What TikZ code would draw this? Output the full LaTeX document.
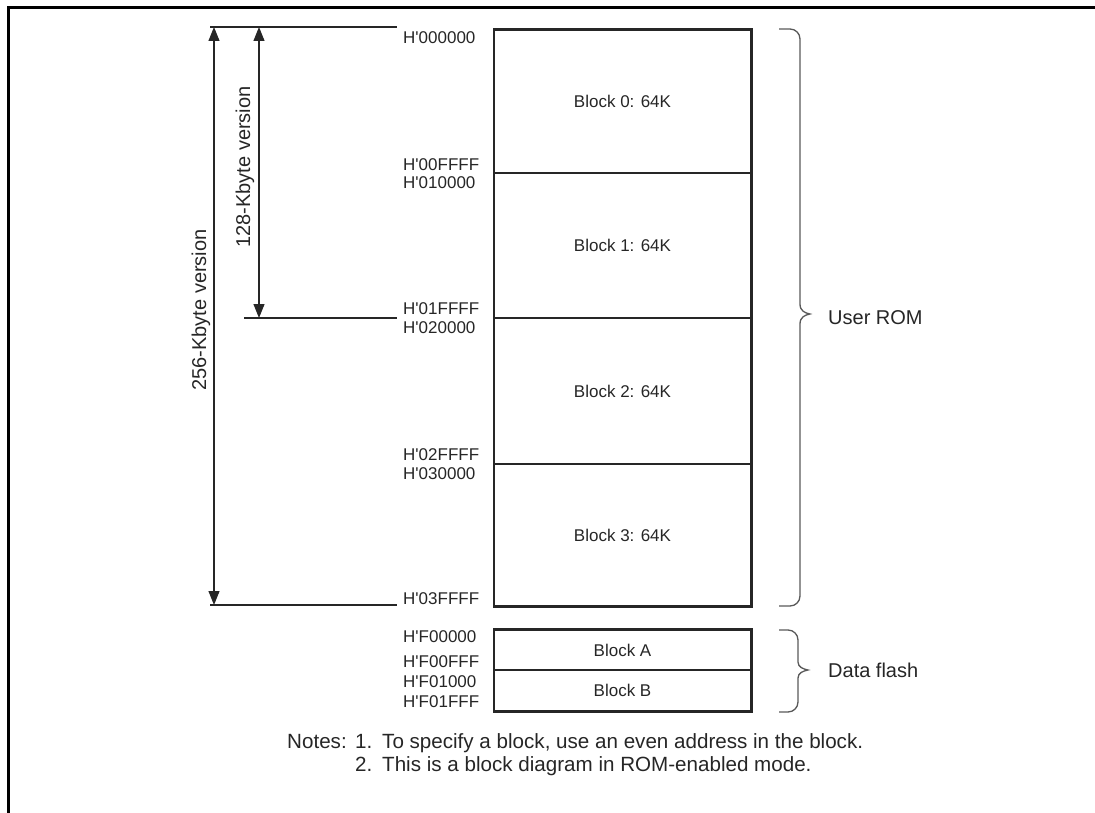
\documentclass[tikz,border=0pt]{standalone}
\usepackage{fontspec}
\setmainfont{Liberation Sans}[Ligatures=TeXOff]
\usetikzlibrary{arrows.meta}
\begin{document}
\begin{tikzpicture}[x=1pt,y=-1pt,
  addr/.style={anchor=west,inner sep=0pt,font=\fontsize{17}{19}\selectfont,text=black!85},
  big/.style={inner sep=0pt,font=\fontsize{20}{22}\selectfont,text=black!85},
  note/.style={inner sep=0pt,anchor=base west,font=\fontsize{20.6}{22}\selectfont,text=black!85},
  blk/.style={draw=black!85,line width=1.6pt,minimum width=256pt,inner sep=0pt,font=\fontsize{17}{19}\selectfont,text=black!85},
  outer/.style={draw=black!85,line width=2.4pt},
  dim/.style={draw=black!85,line width=1.2pt},
  dimarrow/.style={draw=black!85,line width=1.2pt,{Triangle[width=11pt,length=14pt]}-{Triangle[width=11pt,length=14pt]}},
  brace/.style={draw=black!65,line width=1.3pt},
  frame/.style={draw=black,line width=3pt}
]
\useasboundingbox (0,0) rectangle (1095,813);
% page frame
\draw[frame] (1095,8) -- (8.5,8) -- (8.5,813);

% user ROM blocks
\node[blk,minimum height=143pt] (b0) at (622.5,101.5) {Block 0: 64K};
\node[blk,minimum height=145pt] (b1) at (622.5,245.5) {Block 1: 64K};
\node[blk,minimum height=146pt] (b2) at (622.5,391) {Block 2: 64K};
\node[blk,minimum height=142pt] (b3) at (622.5,535) {Block 3: 64K};
\draw[outer] (b0.north west) rectangle (b3.south east);

% data flash blocks
\node[blk,minimum height=40pt] (ba) at (622.5,650) {Block A};
\node[blk,minimum height=41pt] (bb) at (622.5,690.5) {Block B};
\draw[outer] (ba.north west) rectangle (bb.south east);

% addresses
\node[addr] (a0) at (403,38) {H'000000};
\node[addr] (a1) at (403,165) {H'00FFFF};
\node[addr] (a2) at (403,183) {H'010000};
\node[addr] (a3) at (403,309) {H'01FFFF};
\node[addr] (a4) at (403,328) {H'020000};
\node[addr] (a5) at (403,455) {H'02FFFF};
\node[addr] (a6) at (403,474) {H'030000};
\node[addr] (a7) at (403,599) {H'03FFFF};
\node[addr] (f0) at (403,637) {H'F00000};
\node[addr] (f1) at (403,662) {H'F00FFF};
\node[addr] (f2) at (403,682) {H'F01000};
\node[addr] (f3) at (403,702) {H'F01FFF};

% dimension lines
\coordinate (l0) at (210,27);
\coordinate (r0) at (397,27);
\coordinate (l1) at (244,318);
\coordinate (r1) at (397,318);
\coordinate (l2) at (210,605);
\coordinate (r2) at (397,605);
\draw[dim] (l0) -- (r0);
\draw[dim] (l1) -- (r1);
\draw[dim] (l2) -- (r2);

\coordinate (t256) at (214,27);
\coordinate (e256) at (214,605);
\coordinate (t128) at (259,27);
\coordinate (e128) at (259,318);
\draw[dimarrow] (t256) -- (e256);
\draw[dimarrow] (t128) -- (e128);
\node[big,rotate=90] (v256) at (201,310) {256-Kbyte version};
\node[big,rotate=90] (v128) at (245,167) {128-Kbyte version};

% braces
\draw[brace] (779,29) -- (790,29) arc[start angle=-90,end angle=0,radius=10] -- (800,304)
  .. controls (800,311) and (805,313) .. (810,314)
  .. controls (805,315) and (800,317) .. (800,324)
  -- (800,596) arc[start angle=0,end angle=90,radius=10] -- (779,606);
\node[big,anchor=west] (urom) at (828,318) {User ROM};

\draw[brace] (779,630) -- (788,630) arc[start angle=-90,end angle=0,radius=10] -- (798,662)
  .. controls (798,667) and (803,669) .. (808,670)
  .. controls (803,671) and (798,673) .. (798,678)
  -- (798,702) arc[start angle=0,end angle=90,radius=10] -- (788,712) -- (779,712);
\node[big,anchor=west] (dflash) at (828,670) {Data flash};

% notes
\node[note] (notes) at (287,748) {Notes:};
\node[note] (n1) at (355,748) {1.};
\node[note] (n1t) at (382,748) {To specify a block, use an even address in the block.};
\node[note] (n2) at (355,771) {2.};
\node[note] (n2t) at (382,771) {This is a block diagram in ROM-enabled mode.};
\end{tikzpicture}
\end{document}
